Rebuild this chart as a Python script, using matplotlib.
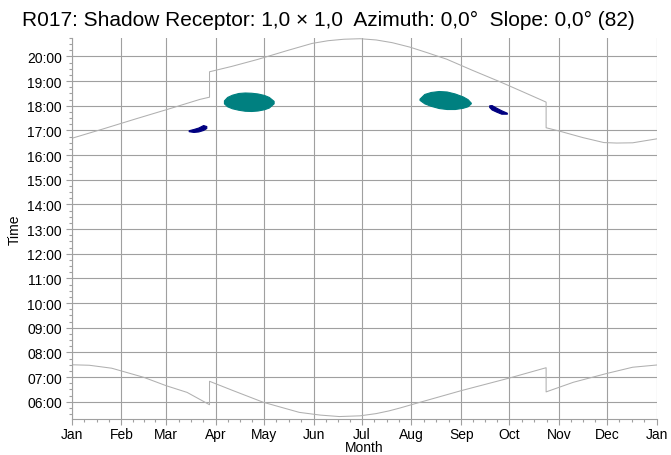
import numpy as np
import matplotlib
matplotlib.use("Agg")
import matplotlib.pyplot as plt

plt.rcParams["font.family"] = ["Liberation Sans", "DejaVu Sans"]

# month starts (day of year, non-leap) and labels
month_days = [0, 31, 59, 90, 120, 151, 181, 212, 243, 273, 304, 334, 365]
month_labels = ["Jan", "Feb", "Mar", "Apr", "May", "Jun", "Jul",
                "Aug", "Sep", "Oct", "Nov", "Dec", "Jan"]

# sunset (hours), with DST jumps
sunset_day = [0, 20, 40, 60, 80, 86, 86, 100, 116, 135, 150, 160, 170, 180,
              190, 200, 211, 222, 234, 250, 267, 280, 296, 296, 304, 319,
              332, 340, 350, 365]
sunset_hr = [16.68, 17.07, 17.47, 17.86, 18.26, 18.35, 19.38, 19.60, 19.88,
             20.25, 20.53, 20.64, 20.70, 20.72, 20.67, 20.56, 20.38, 20.15,
             19.89, 19.44, 18.98, 18.61, 18.15, 17.11, 16.98, 16.71, 16.51,
             16.49, 16.50, 16.66]

# sunrise (hours)
sunrise_day = [0, 11, 25, 45, 59, 72, 86, 86, 100, 119.5, 142, 155, 167, 180,
               190, 198, 205, 212.5, 243, 273, 296, 296, 313, 334, 350, 365]
sunrise_hr = [7.50, 7.48, 7.36, 6.99, 6.65, 6.38, 5.88, 6.83, 6.47, 5.98,
              5.57, 5.46, 5.40, 5.43, 5.52, 5.63, 5.75, 5.89, 6.45, 6.96,
              7.38, 6.40, 6.79, 7.15, 7.40, 7.49]

# shadow periods: day, start and end of shadow (hours)
teal1_day = [95, 97, 100, 104, 108, 112, 116, 120, 123, 126]
teal1_top = [18.22, 18.36, 18.45, 18.52, 18.54, 18.53, 18.50, 18.44, 18.36, 18.20]
teal1_bot = [18.10, 17.98, 17.90, 17.84, 17.80, 17.79, 17.81, 17.86, 17.93, 18.10]

teal2_day = [217, 220, 224, 229, 234, 239, 244, 247, 249]
teal2_top = [18.29, 18.48, 18.56, 18.60, 18.58, 18.50, 18.38, 18.27, 18.13]
teal2_bot = [18.24, 18.10, 18.00, 17.91, 17.87, 17.87, 17.92, 17.98, 18.10]

navy1_day = [73, 76, 79, 82, 84]
navy1_top = [17.01, 17.06, 17.12, 17.22, 17.18]
navy1_bot = [16.97, 16.94, 16.96, 17.02, 17.10]

navy2_day = [260.5, 262, 265, 268, 271.5]
navy2_top = [18.02, 18.03, 17.92, 17.82, 17.72]
navy2_bot = [17.95, 17.85, 17.76, 17.68, 17.68]

hours = list(range(6, 21))
hour_labels = ["%02d:00" % h for h in hours]

fig = plt.figure(figsize=(6.71, 4.56), dpi=100)
ax = fig.add_axes([0.1068, 0.0789, 0.8719, 0.8356])

gc = "#a0a0a0"
ax.plot(sunset_day, sunset_hr, color="#b0b0b0", lw=0.75)
ax.plot(sunrise_day, sunrise_hr, color="#b0b0b0", lw=0.75)

for d, t, b, c in [(teal1_day, teal1_top, teal1_bot, "#008080"),
                   (teal2_day, teal2_top, teal2_bot, "#008080"),
                   (navy1_day, navy1_top, navy1_bot, "#000080"),
                   (navy2_day, navy2_top, navy2_bot, "#000080")]:
    ax.fill_between(d, b, t, color=c, lw=0.8, edgecolor=c)

ax.set_xlim(0, 365)
ax.set_ylim(5.30, 20.73)

ax.set_xticks(month_days)
ax.set_xticklabels(month_labels)
minor_x = []
for a, b in zip(month_days[:-1], month_days[1:]):
    minor_x += [a + (b - a) * k / 4 for k in (1, 2, 3)]
ax.set_xticks(minor_x, minor=True)

ax.set_yticks(hours)
ax.set_yticklabels(hour_labels)
ax.set_yticks(np.arange(5.5, 20.76, 0.25), minor=True)

ax.grid(True, which="major", color=gc, lw=0.8)
ax.set_axisbelow(True)
for s in ["top", "right"]:
    ax.spines[s].set_visible(False)
for s in ["left", "bottom"]:
    ax.spines[s].set_color(gc)
    ax.spines[s].set_linewidth(0.8)
ax.tick_params(which="major", length=4, width=0.8, color=gc, labelsize=10, pad=3)
ax.tick_params(axis="x", which="major", pad=2)
ax.tick_params(which="minor", length=2, width=0.8, color=gc)

ax.set_xlabel("Month", fontsize=10, labelpad=-1)
ax.set_ylabel("Time", fontsize=10, labelpad=4)

fig.text(0.49, 0.956, "R017: Shadow Receptor: 1,0 \u00d7 1,0  Azimuth: 0,0\u00b0  Slope: 0,0\u00b0 (82)",
         ha="center", va="center", fontsize=15)

fig.savefig("out.png", dpi=100)
